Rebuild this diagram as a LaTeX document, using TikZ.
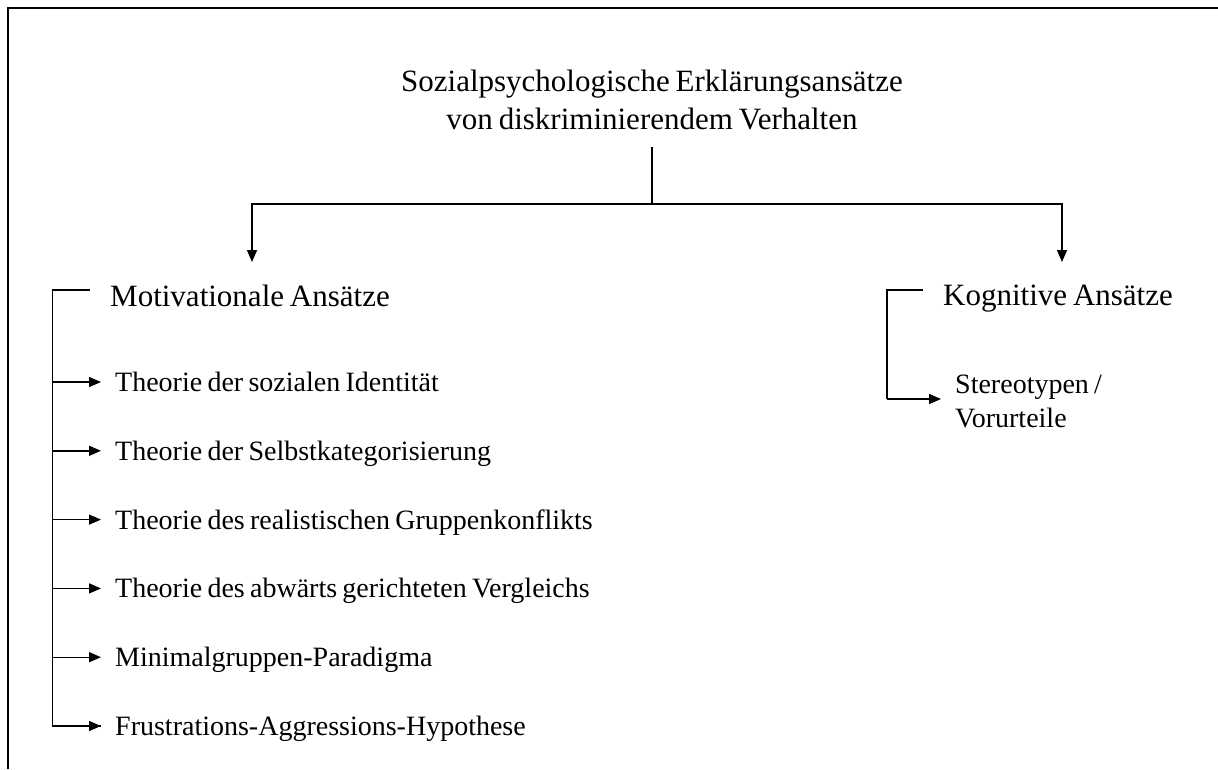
\documentclass[tikz,border=0pt]{standalone}
\usepackage{fontspec}
\setmainfont{Liberation Serif}[WordSpace=0.75]
\usetikzlibrary{arrows.meta,calc}

\tikzset{
  conn/.style={line width=1.4pt},
  tip/.style={conn,-{Triangle[length=12pt,width=10pt]}},
  headtext/.style={font=\fontsize{31}{38}\selectfont, inner sep=0pt, align=center, anchor=base},
  maintext/.style={font=\fontsize{31}{38}\selectfont, inner sep=0pt, anchor=base west, text height=21pt, text depth=0pt},
  subtext/.style={font=\fontsize{28}{34}\selectfont, inner sep=0pt, anchor=base west, text height=19pt, text depth=0pt},
  multitext/.style={font=\fontsize{28}{34}\selectfont, inner sep=0pt, anchor=base west, align=left},
}

\begin{document}
\begin{tikzpicture}[x=1pt,y=-1pt]
\useasboundingbox (0,0) rectangle (1218,769);

% open frame along top and left edge
\draw[line width=2pt] (8,769) -- (8,8) -- (1218,8);

% heading (base anchor sits on the last line)
\node[headtext] (title) at (652,129) {Sozialpsychologische Erklärungsansätze\\von diskriminierendem Verhalten};

% the two branches
\node[maintext] (mot) at (110,306) {Motivationale Ansätze};
\node[maintext] (kog) at (943,305) {Kognitive Ansätze};

\coordinate (stem) at (652,147);
\coordinate (split) at (652,204);
\coordinate (lefttip) at (252,262);
\coordinate (righttip) at (1062,262);
\draw[conn] (stem) -- (split);
\draw[tip] (split) -| (lefttip);
\draw[tip] (split) -| (righttip);

% motivational theories
\node[subtext] (s1) at (115,391.5) {Theorie der sozialen Identität};
\node[subtext] (s2) at (115,460.3) {Theorie der Selbstkategorisierung};
\node[subtext] (s3) at (115,529.1) {Theorie des realistischen Gruppenkonflikts};
\node[subtext] (s4) at (115,597.9) {Theorie des abwärts gerichteten Vergleichs};
\node[subtext] (s5) at (115,666.7) {Minimalgruppen-Paradigma};
\node[subtext] (s6) at (115,735.5) {Frustrations-Aggressions-Hypothese};

\coordinate (mbr) at (52.5,290);
\coordinate (mbrend) at (90,290);
\draw[conn] (mbrend) -- (mbr) -- (mbr |- s6.west) -- ([xshift=-14pt]s6.west);
\foreach \s in {s1,s2,s3,s4,s5,s6}
  \draw[tip] (mbr |- \s.west) -- ([xshift=-14pt]\s.west);

% cognitive approach (base anchor sits on the last line)
\node[multitext] (st) at (955,427) {Stereotypen /\\Vorurteile};
\coordinate (kbr) at (887,290);
\coordinate (kbrend) at (923,290);
\coordinate (kbot) at (887,399);
\coordinate (ktip) at (941,399);
\draw[conn] (kbrend) -- (kbr) -- (kbot);
\draw[tip] (kbot) -- (ktip);
\end{tikzpicture}
\end{document}
